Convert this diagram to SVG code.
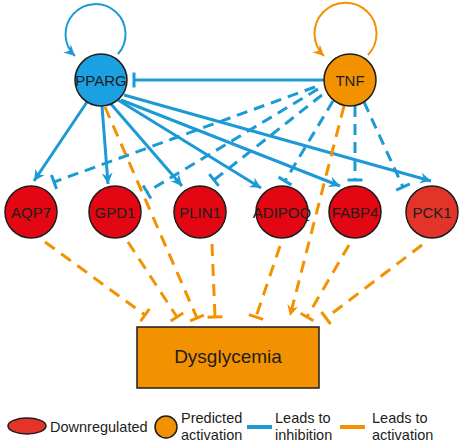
<svg xmlns="http://www.w3.org/2000/svg" width="461" height="445" viewBox="0 0 461 445">
<style>
text{font-family:"Liberation Sans",Arial,sans-serif;fill:#1d1d1b}
.lbl{font-size:15px;text-anchor:middle}
.leg{font-size:14.5px}
.node{stroke:#1d1d1b;stroke-width:1.5}
.blue{fill:#1ba0e2}
.orange{fill:#f39200}
.red{fill:#e30613}
.bs{stroke:#1c9ad6;stroke-width:3;fill:none}
.bd{stroke:#1c9ad6;stroke-width:3;fill:none;stroke-dasharray:11 7}
.od{stroke:#f39200;stroke-width:3;fill:none;stroke-dasharray:12 8}
.loopB{stroke:#1c9ad6;stroke-width:2;fill:none}
.loopO{stroke:#f39200;stroke-width:2;fill:none}
</style>
<defs>
<marker id="arrB" markerUnits="userSpaceOnUse" viewBox="-12 -7 14 14" markerWidth="14" markerHeight="14" refX="0" refY="0" orient="auto"><path d="M0,0 L-11,-5.5 L-7.5,0 L-11,5.5 Z" fill="#1c9ad6"/></marker>
<marker id="arrO" markerUnits="userSpaceOnUse" viewBox="-12 -7 14 14" markerWidth="14" markerHeight="14" refX="0" refY="0" orient="auto"><path d="M0,0 L-11,-5.5 L-7.5,0 L-11,5.5 Z" fill="#f39200"/></marker>
<marker id="barB" markerUnits="userSpaceOnUse" viewBox="-3 -9 6 18" markerWidth="6" markerHeight="18" refX="0" refY="0" orient="auto"><path d="M0,-7.5 V7.5" stroke="#1c9ad6" stroke-width="3"/></marker>
<marker id="barO" markerUnits="userSpaceOnUse" viewBox="-3 -9 6 18" markerWidth="6" markerHeight="18" refX="0" refY="0" orient="auto"><path d="M0,-7.5 V7.5" stroke="#f39200" stroke-width="3"/></marker>
</defs>

<g id="connectors">
<path class="loopB" d="M118,54 A30,30 0 1 0 75,56" marker-end="url(#arrB)"/>
<path class="loopO" d="M368,55 A31,31 0 1 0 324,56" marker-end="url(#arrO)"/>
<path class="bs" d="M324,80 L134,80" marker-end="url(#barB)"/>
<path class="bs" d="M87,102 L34,181" marker-end="url(#arrB)"/>
<path class="bs" d="M102,106 L108,184" marker-end="url(#arrB)"/>
<path class="bs" d="M111,104 L182,186" marker-end="url(#arrB)"/>
<path class="bs" d="M118,100 L261,188" marker-end="url(#arrB)"/>
<path class="bs" d="M121,100 L340,186" marker-end="url(#arrB)"/>
<path class="bs" d="M124,95 L431,181" marker-end="url(#arrB)"/>
<path class="bd" d="M315,87 L54,182" marker-end="url(#barB)"/>
<path class="bd" d="M318,89 L147,192" marker-end="url(#barB)"/>
<path class="bd" d="M322,95 L214,180" marker-end="url(#barB)"/>
<path class="bd" d="M333,101 L285,181" marker-end="url(#barB)"/>
<path class="bd" d="M355,106 L355,180" marker-end="url(#barB)"/>
<path class="bd" d="M364,102 L403,187" marker-end="url(#barB)"/>
<path class="od" d="M105,107 L197,318" marker-end="url(#barO)"/>
<path class="od" d="M344,106 L290,316" marker-end="url(#arrO)"/>
<path class="od" d="M45,242 L145,315" marker-end="url(#barO)"/>
<path class="od" d="M128,242 L177,317" marker-end="url(#barO)"/>
<path class="od" d="M212,244 L215,317" marker-end="url(#barO)"/>
<path class="od" d="M280,246 L256,317" marker-end="url(#barO)"/>
<path class="od" d="M349,245 L307,317" marker-end="url(#barO)"/>
<path class="od" d="M422,245 L326,318" marker-end="url(#barO)"/>
</g>

<g id="PPARG"><circle class="node blue" cx="101" cy="80" r="26"/><text class="lbl" x="101" y="85.5">PPARG</text></g>
<g id="TNF"><circle class="node orange" cx="350" cy="80" r="26"/><text class="lbl" x="350" y="85.5">TNF</text></g>
<g id="AQP7"><circle class="node red" cx="31" cy="212" r="26"/><text class="lbl" x="31" y="217.5">AQP7</text></g>
<g id="GPD1"><circle class="node red" cx="115" cy="212" r="26"/><text class="lbl" x="115" y="217.5">GPD1</text></g>
<g id="PLIN1"><circle class="node red" cx="200" cy="212" r="26"/><text class="lbl" x="200" y="217.5">PLIN1</text></g>
<g id="ADIPOQ"><circle class="node red" cx="282" cy="212" r="26"/><text class="lbl" x="282" y="217.5">ADIPOQ</text></g>
<g id="FABP4"><circle class="node red" cx="355" cy="212" r="26"/><text class="lbl" x="355" y="217.5">FABP4</text></g>
<g id="PCK1"><circle class="node" cx="432" cy="212" r="26" fill="#e3342a"/><text class="lbl" x="432" y="217.5">PCK1</text></g>
<g id="Dysglycemia"><rect class="node orange" x="137" y="327" width="182" height="61"/><text x="228" y="363" style="font-size:19px;text-anchor:middle">Dysglycemia</text></g>

<g id="legend">
<ellipse cx="27" cy="426" rx="19" ry="8" fill="#e5332a" stroke="#1d1d1b" stroke-width="1.5"/>
<text class="leg" x="50" y="432">Downregulated</text>
<circle cx="166" cy="427" r="11" fill="#f39200" stroke="#1d1d1b" stroke-width="1.5"/>
<text class="leg" x="181" y="423">Predicted</text>
<text class="leg" x="181" y="440">activation</text>
<line x1="247" y1="427" x2="272" y2="427" stroke="#1c9ad6" stroke-width="4"/>
<text class="leg" x="275" y="423">Leads to</text>
<text class="leg" x="275" y="440">inhibition</text>
<line x1="340" y1="427" x2="365" y2="427" stroke="#f39200" stroke-width="4"/>
<text class="leg" x="372" y="423">Leads to</text>
<text class="leg" x="372" y="440">activation</text>
</g>
</svg>
